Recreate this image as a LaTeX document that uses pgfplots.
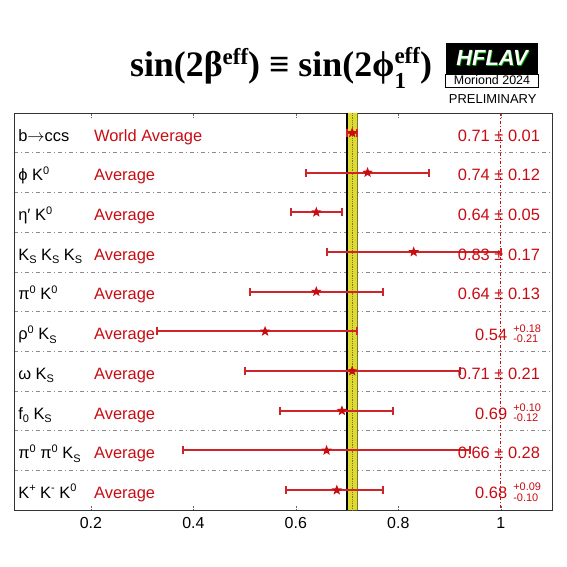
\documentclass[border=0pt]{standalone}
\usepackage{pgfplots}
\pgfplotsset{compat=1.18}
\usepackage{fontspec}
\setmainfont{Liberation Sans}
\newfontfamily\titlefont{Liberation Serif}
\definecolor{hred}{RGB}{200,12,18}
\definecolor{band}{RGB}{222,218,50}
\definecolor{bandedge}{RGB}{120,120,40}
\pgfdeclareplotmark{fstar}{%
  \pgfpathmoveto{\pgfpointpolar{90}{\pgfplotmarksize}}%
  \pgfpathlineto{\pgfpointpolar{126}{0.42\pgfplotmarksize}}%
  \pgfpathlineto{\pgfpointpolar{162}{\pgfplotmarksize}}%
  \pgfpathlineto{\pgfpointpolar{198}{0.42\pgfplotmarksize}}%
  \pgfpathlineto{\pgfpointpolar{234}{\pgfplotmarksize}}%
  \pgfpathlineto{\pgfpointpolar{270}{0.42\pgfplotmarksize}}%
  \pgfpathlineto{\pgfpointpolar{306}{\pgfplotmarksize}}%
  \pgfpathlineto{\pgfpointpolar{342}{0.42\pgfplotmarksize}}%
  \pgfpathlineto{\pgfpointpolar{18}{\pgfplotmarksize}}%
  \pgfpathlineto{\pgfpointpolar{54}{0.42\pgfplotmarksize}}%
  \pgfpathclose\pgfusepathqfill}
\newcommand\lab{\fontsize{16.5}{16.5}\selectfont}
\newcommand\sml{\fontsize{11}{11}\selectfont}
\newcommand\dn[1]{\raisebox{-3.5bp}{\sml #1}}
\newcommand\up[1]{\raisebox{6.5bp}{\sml #1}}
\newcommand\effsup{\raisebox{12bp}{\fontsize{23}{23}\selectfont eff}}
\newcommand\effone{{\fontsize{23}{23}\selectfont\setbox0\hbox{eff}\rlap{\raisebox{13bp}{\copy0}}\makebox[\wd0][l]{\raisebox{-12bp}{1}}}}
\begin{document}
\begin{tikzpicture}[x=1bp,y=1bp]
\useasboundingbox (0,0) rectangle (567,567);
\begin{axis}[at={(14bp,57bp)}, anchor=south west, scale only axis,
  width=538bp, height=397bp,
  xmin=0.05, xmax=1.1, ymin=0.5, ymax=10.5, y dir=reverse,
  xtick={0.2,0.4,0.6,0.8,1}, xticklabels={0.2,0.4,0.6,0.8,1},
  xticklabel style={font=\fontsize{16}{16}\selectfont, yshift=-4bp},
  xtick style={black!60, densely dotted},
  major tick length=4bp,
  ytick={1.5,2.5,3.5,4.5,5.5,6.5,7.5,8.5,9.5}, yticklabels={},
  ytick style={draw=none},
  ymajorgrids, grid style={black!45, dash pattern=on 4bp off 3bp on 1bp off 3bp},
  axis line style={black!80, line width=0.8bp},
  clip=false]
% band
\addplot[fill=band, draw=none] coordinates {(0.70,0.5) (0.72,0.5) (0.72,10.5) (0.70,10.5)} \closedcycle;
\addplot[black, line width=1.2bp] coordinates {(0.70,0.5) (0.70,10.5)};
\addplot[bandedge, line width=1.2bp] coordinates {(0.72,0.5) (0.72,10.5)};
\addplot[bandedge, densely dotted, line width=0.8bp] coordinates {(0.71,0.5) (0.71,10.5)};
% red line at 1
\addplot[hred, line width=1.2bp, dash pattern=on 3bp off 2bp on 1bp off 2bp] coordinates {(1,0.5) (1,10.5)};
% data
\addplot[hred, only marks, mark=fstar, mark size=5.5bp, line width=1.2bp,
  error bars/.cd, x dir=both, x explicit,
  error bar style={line width=2bp, hred!90!white},
  error mark options={hred!90!white, line width=2bp, mark size=4bp, rotate=90}]
coordinates {
(0.71,1) +- (0.01,0)
(0.74,2) +- (0.12,0)
(0.64,3) +- (0.05,0)
(0.83,4) +- (0.17,0)
(0.64,5) +- (0.13,0)
(0.54,6) += (0.18,0) -= (0.21,0)
(0.71,7) +- (0.21,0)
(0.69,8) += (0.10,0) -= (0.12,0)
(0.66,9) +- (0.28,0)
(0.68,10) += (0.09,0) -= (0.10,0)
};
% left labels
\path[font=\lab, inner sep=0pt]
 (axis cs:0.058,1.21) node[anchor=base west]{b$\rightarrow$ccs}
 (axis cs:0.058,2.21) node[anchor=base west]{ϕ K\up{0}}
 (axis cs:0.058,3.21) node[anchor=base west]{η′ K\up{0}}
 (axis cs:0.058,4.21) node[anchor=base west]{K\dn{S} K\dn{S} K\dn{S}}
 (axis cs:0.058,5.21) node[anchor=base west]{π\up{0} K\up{0}}
 (axis cs:0.058,6.21) node[anchor=base west]{ρ\up{0} K\dn{S}}
 (axis cs:0.058,7.21) node[anchor=base west]{ω K\dn{S}}
 (axis cs:0.058,8.21) node[anchor=base west]{f\dn{0} K\dn{S}}
 (axis cs:0.058,9.21) node[anchor=base west]{π\up{0} π\up{0} K\dn{S}}
 (axis cs:0.058,10.21) node[anchor=base west]{K\up{+} K\up{-} K\up{0}};
\path[font=\lab, text=hred, inner sep=0pt]
 (axis cs:0.206,1.21) node[anchor=base west]{World Average}
 (axis cs:0.206,2.21) node[anchor=base west]{Average}
 (axis cs:0.206,3.21) node[anchor=base west]{Average}
 (axis cs:0.206,4.21) node[anchor=base west]{Average}
 (axis cs:0.206,5.21) node[anchor=base west]{Average}
 (axis cs:0.206,6.21) node[anchor=base west]{Average}
 (axis cs:0.206,7.21) node[anchor=base west]{Average}
 (axis cs:0.206,8.21) node[anchor=base west]{Average}
 (axis cs:0.206,9.21) node[anchor=base west]{Average}
 (axis cs:0.206,10.21) node[anchor=base west]{Average};
% values
\path[font=\lab, text=hred, inner sep=0pt]
 (axis cs:1.077,1.21) node[anchor=base east]{0.71 ± 0.01}
 (axis cs:1.077,2.21) node[anchor=base east]{0.74 ± 0.12}
 (axis cs:1.077,3.21) node[anchor=base east]{0.64 ± 0.05}
 (axis cs:1.077,4.21) node[anchor=base east]{0.83 ± 0.17}
 (axis cs:1.077,5.21) node[anchor=base east]{0.64 ± 0.13}
 (axis cs:1.077,7.21) node[anchor=base east]{0.71 ± 0.21}
 (axis cs:1.077,9.21) node[anchor=base east]{0.66 ± 0.28}
 (axis cs:1.013,6.22) node[anchor=base east]{0.54}
 (axis cs:1.013,8.22) node[anchor=base east]{0.69}
 (axis cs:1.013,10.22) node[anchor=base east]{0.68};
\path[font=\sml, text=hred, inner sep=0pt]
 (axis cs:1.024,6.02) node[anchor=base west]{+0.18}
 (axis cs:1.024,6.28) node[anchor=base west]{-0.21}
 (axis cs:1.024,8.02) node[anchor=base west]{+0.10}
 (axis cs:1.024,8.28) node[anchor=base west]{-0.12}
 (axis cs:1.024,10.02) node[anchor=base west]{+0.09}
 (axis cs:1.024,10.28) node[anchor=base west]{-0.10};
\end{axis}
% title
\node[anchor=base, inner sep=0pt] at (281,490)
 {\titlefont\bfseries\fontsize{36}{36}\selectfont sin(2β\effsup) ≡ sin(2ϕ\effone)};
% logo
\fill[black] (445.7,493) rectangle (538.3,524);
\node[anchor=base, inner sep=0pt, text=green!70!black] at (492.8,500.3) {\bfseries\itshape\fontsize{22}{22}\selectfont HFLAV};
\node[anchor=base, inner sep=0pt, text=white] at (492,501) {\bfseries\itshape\fontsize{22}{22}\selectfont HFLAV};
\draw[black, line width=0.8bp, fill=white] (445.7,480) rectangle (538.3,493);
\node[anchor=base, inner sep=0pt] at (492,482.5) {\fontsize{12.5}{12.5}\selectfont Moriond 2024};
\node[anchor=base, inner sep=0pt] at (492.7,463) {\fontsize{13}{13}\selectfont PRELIMINARY};
\end{tikzpicture}
\end{document}
